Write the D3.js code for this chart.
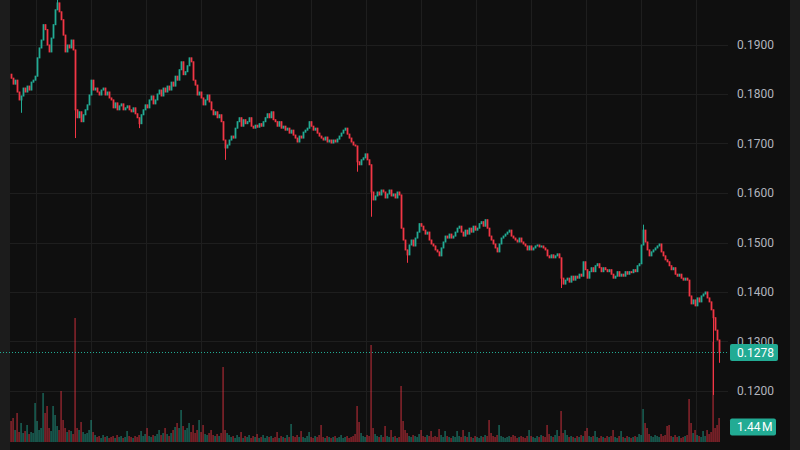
<!DOCTYPE html>
<html>
<head>
<meta charset="utf-8">
<script src="https://cdn.jsdelivr.net/npm/d3@7"></script>
<style>
  body { margin: 0; background: #0f0f0f; }
  svg { display: block; }
  .yaxis text { font-family: Roboto, "Noto Sans", sans-serif; font-size: 12px; fill: #b2b5be; }
</style>
</head>
<body>
<div id="container"></div>
<script>
// closing prices, one per candle (open = previous close)
let closes = [
  .1832,.1820,.1828,.1804,.1788,.1796,.1812,.1804,.1816,.1808,
  .1824,.1828,.1836,.1873,.1893,.1909,.1940,.1930,.1899,.1885,
  .1913,.1940,.1970,.1984,.1966,.1950,.1919,.1885,.1899,.1893,
  .1909,.1889,.1768,.1752,.1764,.1744,.1758,.1768,.1778,.1798,
  .1828,.1808,.1812,.1804,.1798,.1808,.1812,.1798,.1804,.1792,
  .1788,.1772,.1782,.1768,.1776,.1780,.1768,.1772,.1776,.1768,
  .1764,.1772,.1760,.1752,.1740,.1758,.1768,.1778,.1772,.1788,
  .1796,.1780,.1788,.1800,.1808,.1796,.1812,.1804,.1816,.1808,
  .1824,.1816,.1836,.1828,.1849,.1865,.1839,.1845,.1857,.1873,
  .1865,.1828,.1818,.1798,.1804,.1792,.1778,.1788,.1798,.1784,
  .1768,.1758,.1764,.1752,.1758,.1744,.1707,.1691,.1697,.1707,
  .1715,.1711,.1731,.1744,.1752,.1735,.1748,.1740,.1744,.1752,
  .1735,.1731,.1737,.1733,.1740,.1735,.1744,.1752,.1760,.1752,
  .1764,.1748,.1744,.1735,.1744,.1731,.1735,.1727,.1731,.1721,
  .1727,.1717,.1711,.1703,.1715,.1711,.1723,.1727,.1731,.1744,
  .1735,.1727,.1731,.1721,.1715,.1711,.1707,.1713,.1703,.1707,
  .1701,.1707,.1703,.1709,.1715,.1721,.1727,.1731,.1719,.1711,
  .1703,.1697,.1695,.1663,.1657,.1667,.1671,.1679,.1667,.1657,
  .1602,.1586,.1594,.1602,.1596,.1606,.1602,.1590,.1598,.1606,
  .1594,.1598,.1590,.1602,.1596,.1529,.1505,.1485,.1475,.1495,
  .1505,.1493,.1509,.1521,.1538,.1533,.1525,.1517,.1521,.1505,
  .1497,.1493,.1485,.1481,.1473,.1489,.1501,.1513,.1509,.1517,
  .1509,.1513,.1521,.1529,.1533,.1521,.1513,.1525,.1517,.1529,
  .1521,.1533,.1525,.1529,.1538,.1542,.1533,.1546,.1529,.1513,
  .1505,.1497,.1489,.1481,.1497,.1509,.1513,.1517,.1521,.1525,
  .1513,.1509,.1505,.1501,.1509,.1501,.1497,.1493,.1485,.1493,
  .1485,.1489,.1493,.1495,.1491,.1493,.1489,.1485,.1473,.1469,
  .1475,.1469,.1473,.1477,.1469,.1428,.1416,.1424,.1428,.1420,
  .1432,.1424,.1432,.1428,.1436,.1432,.1461,.1445,.1428,.1441,
  .1449,.1441,.1453,.1457,.1449,.1441,.1449,.1445,.1441,.1445,
  .1436,.1428,.1432,.1441,.1432,.1436,.1432,.1441,.1436,.1441,
  .1439,.1445,.1441,.1453,.1457,.1495,.1525,.1501,.1485,.1473,
  .1481,.1485,.1489,.1493,.1497,.1481,.1473,.1465,.1461,.1453,
  .1445,.1449,.1436,.1432,.1436,.1428,.1424,.1428,.1424,.1392,
  .1376,.1384,.1372,.1388,.1380,.1392,.1396,.1400,.1388,.1380,
  .1364,.1348,.1323,.1303,.1278
];

// volume per candle, millions
let volumes = [
  1.26,1.44,0.72,1.74,0.6,1.14,0.54,0.66,1.02,0.48,
  0.6,0.54,2.34,1.26,0.72,0.84,2.94,1.74,2.16,0.84,
  0.66,2.16,1.62,0.96,0.72,3.06,1.32,0.84,0.6,0.72,
  0.66,0.48,7.44,0.84,0.72,1.2,0.6,0.48,0.54,0.72,
  1.32,0.6,0.42,0.3,0.36,0.24,0.42,0.3,0.36,0.24,
  0.3,0.36,0.24,0.42,0.3,0.36,0.24,0.3,0.66,0.36,
  0.3,0.24,0.36,0.3,0.42,0.66,0.36,0.48,0.84,0.36,
  0.3,0.42,0.36,0.48,0.72,0.42,0.54,0.84,0.48,0.36,
  0.54,0.72,0.9,1.14,0.84,1.92,0.96,0.72,0.84,1.14,
  0.6,1.02,0.54,0.72,1.32,0.6,1.02,0.48,0.42,0.54,
  0.72,0.42,0.36,0.48,0.36,0.54,4.5,0.72,0.54,0.42,
  0.3,0.36,0.24,0.42,0.3,0.6,0.24,0.36,0.3,0.42,
  0.24,0.36,0.3,0.48,0.24,0.3,0.42,0.24,0.36,0.3,
  0.36,0.24,0.3,0.6,0.24,0.36,0.3,0.24,0.42,0.3,
  1.08,0.36,0.3,0.42,0.3,0.66,0.3,0.24,0.36,0.6,
  0.3,0.24,0.36,0.3,0.42,1.02,0.3,0.24,0.36,0.3,
  0.24,0.3,0.36,0.24,0.3,0.42,0.24,0.3,0.36,0.24,
  0.3,0.36,0.48,2.16,1.2,0.54,0.36,0.3,0.42,0.36,
  5.82,0.84,0.48,0.36,0.3,0.42,0.3,0.96,0.36,0.3,
  0.72,0.3,0.36,0.24,0.3,3.36,1.26,0.72,0.54,0.36,
  0.3,0.42,0.36,0.3,0.48,0.72,0.36,0.3,0.42,0.36,
  0.66,0.3,0.36,0.3,0.78,0.42,0.3,0.66,0.36,0.3,
  0.24,0.36,0.3,0.66,0.36,0.3,0.72,0.36,0.3,0.6,
  0.3,0.24,0.36,0.3,0.24,0.36,0.3,0.42,0.36,1.32,
  0.54,0.36,0.3,0.42,1.02,0.36,0.3,0.24,0.3,0.36,
  0.3,0.42,0.36,0.24,0.3,0.36,0.3,0.24,0.36,0.72,
  0.36,0.3,0.24,0.36,0.3,0.42,0.36,0.3,1.02,0.48,
  0.36,0.3,0.42,0.72,0.36,1.86,0.54,0.72,0.42,0.3,
  0.36,0.3,0.24,0.36,0.3,0.42,0.36,0.66,0.84,0.36,
  0.3,0.36,0.66,0.3,0.24,0.36,0.3,0.24,0.36,0.3,
  0.36,0.72,0.3,0.24,0.36,0.66,0.3,0.24,0.36,0.3,
  0.24,0.3,0.36,0.3,0.48,0.42,1.98,1.14,0.84,0.48,
  0.36,0.3,0.42,0.36,0.3,0.48,0.36,0.42,0.96,1.02,
  0.36,0.3,0.42,0.3,0.36,0.24,0.3,0.36,0.42,2.58,
  1.14,0.54,0.72,0.42,0.36,0.3,0.66,0.36,0.72,0.48,
  0.6,6.0,0.84,1.02,1.44
];

let firstOpen = 0.1840;

// candles with long wicks
let spikeIndex = [5, 23, 32, 64, 107, 173, 180, 198, 275, 316, 351, 354];
let spikeHigh  = [null, 0.1992, null, null, null, null, null, null, null, 0.1536, null, null];
let spikeLow   = [0.1762, null, 0.1711, 0.1731, 0.1667, 0.1643, 0.1552, 0.1459, 0.1408, null, 0.1192, 0.1257];

let priceTicks = [0.12, 0.13, 0.14, 0.15, 0.16, 0.17, 0.18, 0.19];
let lastPriceText = "0.1278";
let lastVolumeText = "1.44\u202FM";

let w = 800;
let h = 450;
let plotLeft = 10;
let plotRight = 728;
let baseY = 442;
let upColor = "#22ab94";
let downColor = "#f23645";

let viz = d3.select("#container")
  .append("svg")
    .attr("width", w)
    .attr("height", h);

viz.append("rect").attr("width", w).attr("height", h).attr("fill", "#0f0f0f");
viz.append("rect").attr("width", plotLeft).attr("height", h).attr("fill", "#1c1c1c");
viz.append("rect").attr("x", 790).attr("width", 10).attr("height", h).attr("fill", "#1c1c1c");

// build candles
let candles = closes.map(function(c, i){
  let o = i == 0 ? firstOpen : closes[i-1];
  return {i: i, open: o, close: c, high: Math.max(o, c), low: Math.min(o, c), vol: volumes[i]};
});
spikeIndex.forEach(function(idx, k){
  if (spikeHigh[k] != null) candles[idx].high = spikeHigh[k];
  if (spikeLow[k] != null) candles[idx].low = spikeLow[k];
});

let xScale = d3.scaleLinear().domain([0, closes.length - 1]).range([11, 719]);
let yScale = d3.scaleLinear().domain([0.12, 0.19]).range([391, 44.5]);
let volScale = d3.scaleLinear().domain([0, d3.max(volumes)]).range([baseY, 318]);

function colorOf(d){ return d.close >= d.open ? upColor : downColor; }

// grid
let grid = viz.append("g").attr("stroke", "#1e1e1e").attr("stroke-width", 1);
grid.selectAll(".vgrid").data(d3.range(12.35, closes.length, 27.5)).enter()
  .append("line")
    .attr("x1", function(d){ return Math.round(xScale(d)) + 0.5; })
    .attr("x2", function(d){ return Math.round(xScale(d)) + 0.5; })
    .attr("y1", 0).attr("y2", baseY);
grid.selectAll(".hgrid").data(priceTicks).enter()
  .append("line")
    .attr("x1", plotLeft).attr("x2", plotRight)
    .attr("y1", function(d){ return Math.round(yScale(d)) + 0.5; })
    .attr("y2", function(d){ return Math.round(yScale(d)) + 0.5; });

// volume
viz.append("g").selectAll("rect").data(candles).enter()
  .append("rect")
    .attr("x", function(d){ return xScale(d.i) - 0.8; })
    .attr("width", 1.8)
    .attr("y", function(d){ return volScale(d.vol); })
    .attr("height", function(d){ return baseY - volScale(d.vol); })
    .attr("fill", colorOf)
    .attr("opacity", 0.45);

// candles
let candleGroup = viz.append("g");
candleGroup.selectAll("line").data(candles).enter()
  .append("line")
    .attr("x1", function(d){ return xScale(d.i) + 0.5; })
    .attr("x2", function(d){ return xScale(d.i) + 0.5; })
    .attr("y1", function(d){ return yScale(d.high); })
    .attr("y2", function(d){ return yScale(d.low); })
    .attr("stroke", colorOf)
    .attr("stroke-width", 1);
candleGroup.selectAll("rect").data(candles).enter()
  .append("rect")
    .attr("x", function(d){ return xScale(d.i) - 0.4; })
    .attr("width", 1.8)
    .attr("y", function(d){ return yScale(Math.max(d.open, d.close)) - 0.5; })
    .attr("height", function(d){ return Math.max(1, Math.abs(yScale(d.open) - yScale(d.close))) + 1; })
    .attr("fill", colorOf);

// last price line
let lastY = Math.round(yScale(closes[closes.length - 1])) + 0.5;
viz.append("line")
  .attr("x1", 0).attr("x2", plotRight)
  .attr("y1", lastY).attr("y2", lastY)
  .attr("stroke", upColor)
  .attr("stroke-dasharray", "1,2");

// price axis
let yAxis = d3.axisRight(yScale)
  .tickValues(priceTicks)
  .tickFormat(d3.format(".4f"))
  .tickSize(0)
  .tickPadding(0);
let yAxisGroup = viz.append("g")
  .attr("class", "yaxis")
  .attr("transform", "translate(737,0)")
  .call(yAxis);
yAxisGroup.select(".domain").remove();

// last value labels
function valueLabel(cy, txt, bw){
  viz.append("rect")
    .attr("x", 730).attr("y", cy - 8.5)
    .attr("width", bw).attr("height", 17)
    .attr("rx", 2)
    .attr("fill", upColor);
  viz.append("text")
    .attr("x", 737).attr("y", cy)
    .attr("dy", "0.35em")
    .attr("fill", "#ffffff")
    .style("font-family", "Roboto, 'Noto Sans', sans-serif")
    .style("font-size", "12px")
    .text(txt);
}
valueLabel(lastY, lastPriceText, 48);
valueLabel(volScale(volumes[volumes.length - 1]) + 9, lastVolumeText, 46);
</script>
</body>
</html>
